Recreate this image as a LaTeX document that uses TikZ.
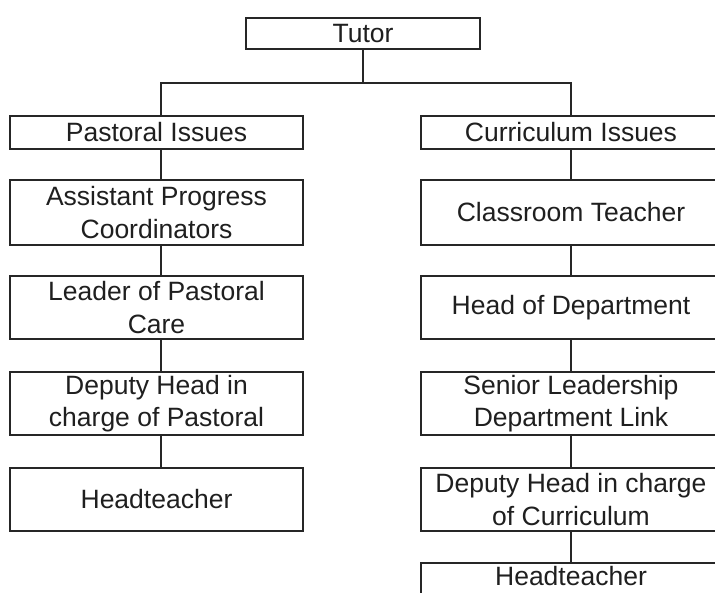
\documentclass[tikz,border=0pt]{standalone}
\usepackage{fontspec}
\setmainfont{Liberation Sans}
\begin{document}
\begin{tikzpicture}[x=1pt,y=-1pt,
  box/.style={draw=black!85, line width=1.6pt, rectangle, inner sep=0pt, outer sep=0pt, anchor=north west,
    align=center, text=black!88, font=\fontsize{26.5}{32.5}\selectfont},
  link/.style={draw=black!85, line width=1.6pt}]
\clip (0,0) rectangle (715,592);
\fill[white] (0,0) rectangle (715,592);
% top
\node[box, minimum width=234pt, minimum height=31pt] (tutor) at (246,18) {Tutor};
% left column
\node[box, minimum width=293pt, minimum height=33pt] (past) at (10,116) {Pastoral Issues};
\node[box, minimum width=293pt, minimum height=65pt] (apc) at (10,180) {Assistant Progress\\Coordinators};
\node[box, minimum width=293pt, minimum height=63pt] (lpc) at (10,276) {Leader of Pastoral\\Care};
\node[box, minimum width=293pt, minimum height=63pt] (dhp) at (10,372) {Deputy Head in\\charge of Pastoral};
\node[box, minimum width=293pt, minimum height=63pt] (htl) at (10,468) {Headteacher};
% right column
\node[box, minimum width=300pt, minimum height=33pt] (curr) at (421,116) {Curriculum Issues};
\node[box, minimum width=300pt, minimum height=65pt] (ct) at (421,180) {Classroom Teacher};
\node[box, minimum width=300pt, minimum height=63pt] (hod) at (421,276) {Head of Department};
\node[box, minimum width=300pt, minimum height=63pt] (sldl) at (421,372) {Senior Leadership\\Department Link};
\node[box, minimum width=300pt, minimum height=63pt] (dhc) at (421,468) {Deputy Head in charge\\of Curriculum};
\node[box, draw=none, minimum width=300pt, anchor=north, inner ysep=3pt, text height=19pt, text depth=2pt] (htr) at (571,563) {Headteacher};
\draw[link] ([yshift=-12pt]htr.south west) -- (htr.north west) -- (htr.north east) -- ([yshift=-12pt]htr.south east);
% connectors
\coordinate (split) at ([yshift=-34pt]tutor.south);
\draw[link] (tutor.south) -- (split);
\draw[link] ([xshift=4.5pt]past.north) |- (split) -| (curr.north);
\draw[link] ([xshift=4.5pt]past.south) -- ([xshift=4.5pt]apc.north);
\draw[link] ([xshift=4.5pt]apc.south) -- ([xshift=4.5pt]lpc.north);
\draw[link] ([xshift=4.5pt]lpc.south) -- ([xshift=4.5pt]dhp.north);
\draw[link] ([xshift=4.5pt]dhp.south) -- ([xshift=4.5pt]htl.north);
\draw[link] (curr.south) -- (ct.north);
\draw[link] (ct.south) -- (hod.north);
\draw[link] (hod.south) -- (sldl.north);
\draw[link] (sldl.south) -- (dhc.north);
\draw[link] (dhc.south) -- (htr.north);
\end{tikzpicture}
\end{document}
